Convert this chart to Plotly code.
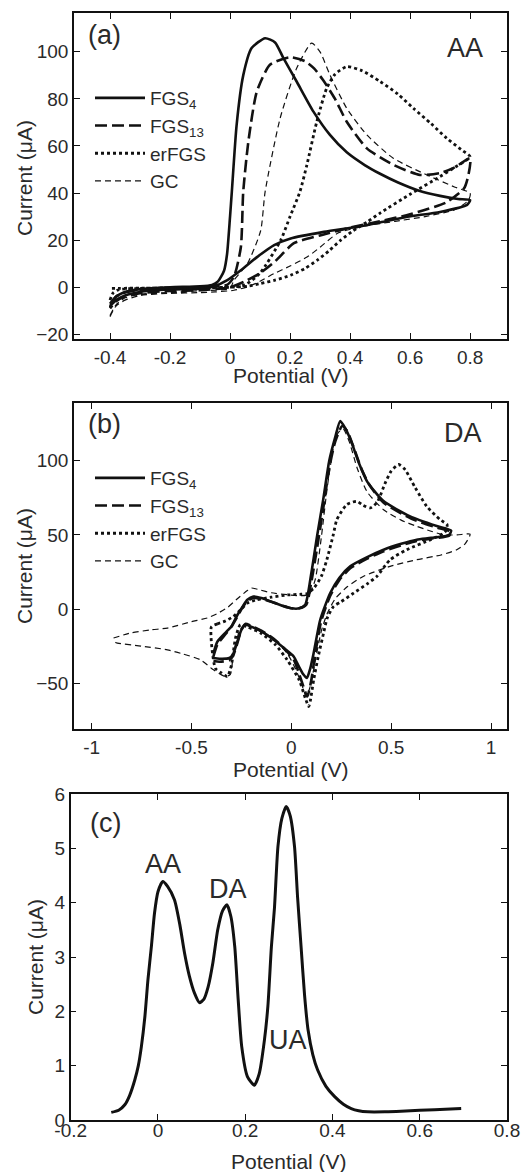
import plotly.graph_objects as go

# ---------------- Panel (a): AA cyclic voltammograms ----------------
a_fgs4_v = [-0.40, -0.38, -0.35, -0.30, -0.20, -0.10, -0.06, -0.04, -0.02, -0.01, 0.00, 0.006, 0.022, 0.044, 0.072, 0.117,
            0.15, 0.178, 0.222, 0.278, 0.333, 0.389, 0.45, 0.50, 0.56, 0.63, 0.70, 0.76, 0.80,
            0.79, 0.70, 0.591, 0.50, 0.424, 0.313, 0.202, 0.147, 0.091, 0.036, -0.009, -0.053, -0.10, -0.20, -0.30, -0.35, -0.38, -0.40]
a_fgs4_i = [-8, -4, -2, -0.8, 0, 0.4, 1, 2.5, 7, 14, 30, 40.6, 69, 90, 101.6, 105.8,
            104, 97.3, 87.4, 74.6, 64.7, 57.3, 51.8, 48.2, 44.5, 41, 38.8, 37.5, 37,
            35, 32, 29.9, 27.5, 25.7, 23.5, 20.7, 17.9, 12.9, 7.2, 3, 0.4, -0.6, -1, -2, -3.5, -5.5, -8]

a_fgs13_v = [-0.40, -0.38, -0.35, -0.30, -0.20, -0.10, -0.03, -0.01, 0.013, 0.036, 0.044, 0.061, 0.089, 0.133, 0.20, 0.25,
             0.28, 0.31, 0.35, 0.389, 0.456, 0.544, 0.633, 0.70, 0.75, 0.80,
             0.795, 0.78, 0.72, 0.60, 0.50, 0.40, 0.30, 0.213, 0.15, 0.10, 0.05, 0.00, -0.10, -0.20, -0.30, -0.35, -0.38, -0.40]
a_fgs13_i = [-7, -4, -2.2, -1.2, -0.5, 0, 0.6, 1, 4.4, 17, 40.6, 61.8, 83, 94.5, 97.7, 96,
             93, 88, 80, 70.3, 59, 52, 47.7, 48.5, 51, 54.8,
             48, 42, 36, 31, 28, 25.3, 22, 18.7, 11, 6, 2.5, 0, -1.3, -1.6, -2.5, -4, -6, -9]

a_erfgs_v = [-0.40, -0.39, -0.37, -0.30, -0.20, -0.10, 0.00, 0.05, 0.10, 0.169, 0.20, 0.233, 0.256, 0.289, 0.322, 0.35,
             0.389, 0.44, 0.50, 0.56, 0.611, 0.67, 0.722, 0.77, 0.80,
             0.75, 0.70, 0.60, 0.50, 0.458, 0.41, 0.369, 0.33, 0.291, 0.25, 0.202, 0.15, 0.102, 0.058, 0.00, -0.10, -0.20, -0.30, -0.40]
a_erfgs_i = [-5.5, -2.5, -1, -0.5, -0.3, -0.2, 0, 1, 6, 20, 30, 40.6, 51.9, 70.3, 84.5, 90.5,
             93.7, 92, 87.4, 82, 76, 69.5, 63.3, 58.5, 55.4,
             51, 47, 39.5, 31.5, 27.8, 24, 20, 15.5, 11.5, 8, 5.1, 3, 1.6, 0.4, 0, -0.2, -0.3, -0.4, -0.5]

a_gc_v = [-0.40, -0.38, -0.35, -0.30, -0.20, -0.10, 0.00, 0.013, 0.058, 0.102, 0.117, 0.167, 0.222, 0.272, 0.30, 0.333,
          0.389, 0.456, 0.544, 0.656, 0.75, 0.80,
          0.795, 0.75, 0.65, 0.55, 0.45, 0.36, 0.30, 0.258, 0.20, 0.147, 0.10, 0.058, 0.013, -0.05, -0.10, -0.20, -0.30, -0.35, -0.38, -0.40]
a_gc_i = [-12, -7.5, -4.5, -3, -2.2, -1.5, -0.5, 3, 10, 24, 40.6, 71.8, 93, 103.7, 100, 90.2,
          76, 64.7, 54.8, 47.7, 42.5, 40,
          37, 33, 30, 28, 26, 23, 17, 12.9, 9, 5.8, 2.5, 0.1, -1.3, -2, -2.3, -2.6, -3.5, -5.5, -8, -12.5]

# ---------------- Panel (b): DA cyclic voltammograms ----------------
b_fgs4_v = [-0.39, -0.37, -0.33, -0.30, -0.27, -0.24, -0.22, -0.19, -0.15, -0.10, -0.04, 0.00, 0.04, 0.07, 0.10, 0.13,
            0.16, 0.19, 0.22, 0.245, 0.27, 0.30, 0.34, 0.38, 0.46, 0.595, 0.728, 0.80,
            0.79, 0.70, 0.628, 0.55, 0.462, 0.38, 0.295, 0.24, 0.195, 0.145, 0.112, 0.095, 0.078, 0.06, 0.035, 0.012,
            -0.04, -0.088, -0.15, -0.205, -0.23, -0.25, -0.27, -0.29, -0.31, -0.36, -0.39]
b_fgs4_i = [-30, -22, -16, -11.7, -4, 2.5, 6.3, 8.5, 7.5, 5, 2, 0.5, 0.5, 3, 24, 50,
            74, 100, 116, 126.8, 122, 113, 98, 86, 73, 62.5, 56, 53,
            50, 48, 46.8, 44, 40, 35, 28.8, 21, 10.8, -7.2, -29.7, -40, -46.5, -44, -38, -32,
            -26, -20.7, -15, -11.7, -10.5, -14, -22, -30, -33, -33.5, -33]

b_fgs13_v = [-0.39, -0.37, -0.33, -0.30, -0.27, -0.24, -0.22, -0.19, -0.15, -0.10, -0.04, 0.00, 0.04, 0.075, 0.10, 0.13,
             0.16, 0.19, 0.22, 0.255, 0.28, 0.31, 0.35, 0.39, 0.46, 0.60, 0.73, 0.80,
             0.79, 0.70, 0.628, 0.55, 0.462, 0.38, 0.295, 0.24, 0.195, 0.15, 0.12, 0.10, 0.08, 0.06, 0.035, 0.012,
             -0.04, -0.088, -0.15, -0.205, -0.23, -0.25, -0.27, -0.29, -0.31, -0.36, -0.39]
b_fgs13_i = [-32, -24, -17, -12, -5, 2, 5.5, 7.5, 7, 5, 2, 0.5, 0.5, 3, 18, 42,
             68, 95, 113, 123.5, 120, 110, 95, 84, 72, 61, 55, 52,
             49.5, 47.5, 46, 43, 39, 34, 27.5, 19.5, 9, -8, -30, -48, -59, -52, -42, -34,
             -26, -20, -14.5, -11, -10, -14, -23, -31, -34.5, -35.5, -35]

b_erfgs_v = [-0.40, -0.37, -0.33, -0.29, -0.25, -0.22, -0.18, -0.10, -0.02, 0.05, 0.08, 0.112, 0.15, 0.178, 0.21, 0.228,
             0.278, 0.328, 0.36, 0.395, 0.43, 0.47, 0.50, 0.537, 0.57, 0.62, 0.678, 0.745, 0.78,
             0.77, 0.70, 0.578, 0.495, 0.428, 0.38, 0.312, 0.25, 0.212, 0.18, 0.162, 0.135, 0.112, 0.095, 0.087, 0.07, 0.04,
             -0.022, -0.08, -0.155, -0.22, -0.255, -0.28, -0.30, -0.32, -0.35, -0.38, -0.40]
b_erfgs_i = [-12, -10, -8, -5, 0, 4, 6, 8, 9.5, 10, 10.5, 14, 22, 33.3, 50, 60.3,
             70.5, 72.7, 70, 68.2, 72, 85, 93, 97.5, 94, 82, 69.3, 60.3, 57,
             52, 47, 40, 33.3, 22, 17, 10.8, 5, 1.8, -6, -16, -32, -47.8, -62, -65.8, -60, -48,
             -34, -24, -16, -12, -10.6, -20, -38, -45.5, -43, -40, -12]

b_gc_v = [-0.89, -0.80, -0.70, -0.62, -0.50, -0.42, -0.37, -0.32, -0.27, -0.22, -0.20, -0.16, -0.10, -0.02, 0.05, 0.09,
          0.12, 0.15, 0.18, 0.21, 0.235, 0.26, 0.29, 0.33, 0.38, 0.462, 0.55, 0.628, 0.70, 0.76, 0.83, 0.895,
          0.87, 0.828, 0.75, 0.628, 0.495, 0.36, 0.28, 0.22, 0.18, 0.15, 0.12, 0.095, 0.075, 0.05, 0.02, -0.02,
          -0.10, -0.20, -0.23, -0.26, -0.29, -0.305, -0.33, -0.39, -0.455, -0.55, -0.62, -0.75, -0.88, -0.89]
b_gc_i = [-19.5, -16, -14, -12.8, -8.5, -6, -3, 1, 7, 12.5, 14.2, 13, 11, 9.7, 9, 10,
          20, 48, 82, 108, 119, 121.5, 113, 95, 79, 67, 60, 55.8, 52.5, 50.2, 50, 50.5,
          44, 40, 36.5, 33.3, 28.8, 22, 15, 7, -3, -15, -35, -52, -59, -50, -40, -30,
          -19, -12, -10.5, -15, -30, -44, -45.5, -41, -34.2, -30, -27.5, -25, -22.5, -20.5]

# ---------------- Panel (c): simultaneous detection ----------------
c_v = [-0.107, -0.09, -0.076, -0.065, -0.053, -0.045, -0.038, -0.03, -0.023, -0.015, -0.008, 0.0, 0.011, 0.022, 0.038,
       0.05, 0.061, 0.072, 0.084, 0.095, 0.105, 0.115, 0.126, 0.137, 0.148, 0.158, 0.167, 0.176, 0.184, 0.192, 0.205,
       0.221, 0.232, 0.244, 0.252, 0.26, 0.267, 0.275, 0.284, 0.294, 0.303, 0.313, 0.32, 0.328, 0.336, 0.344, 0.355,
       0.366, 0.385, 0.405, 0.425, 0.443, 0.46, 0.481, 0.52, 0.557, 0.60, 0.634, 0.695]
c_i = [0.14, 0.18, 0.28, 0.45, 0.74, 1.0, 1.35, 1.9, 2.58, 3.2, 3.8, 4.2, 4.39, 4.3, 4.05,
       3.6, 3.07, 2.65, 2.33, 2.16, 2.22, 2.45, 2.9, 3.5, 3.85, 3.96, 3.75, 3.19, 2.2, 1.35, 0.8,
       0.64, 0.85, 1.47, 2.1, 3.19, 3.9, 5.03, 5.55, 5.77, 5.6, 5.03, 4.1, 3.19, 2.3, 1.66, 1.2,
       0.92, 0.62, 0.43, 0.29, 0.21, 0.17, 0.15, 0.15, 0.16, 0.18, 0.19, 0.21]

names = ["FGS<sub>4</sub>", "FGS<sub>13</sub>", "erFGS", "GC"]
styles = [dict(width=2.6, dash="solid"), dict(width=2.6, dash="12px,5px"),
          dict(width=2.8, dash="dot"), dict(width=1.2, dash="6px,4px")]

INK = "#111111"
TXT = "#2a2a2a"
FONT = "Liberation Sans, Arial, sans-serif"

fig = go.Figure()

a_sets = [(a_fgs4_v, a_fgs4_i), (a_fgs13_v, a_fgs13_i), (a_erfgs_v, a_erfgs_i), (a_gc_v, a_gc_i)]
b_sets = [(b_fgs4_v, b_fgs4_i), (b_fgs13_v, b_fgs13_i), (b_erfgs_v, b_erfgs_i), (b_gc_v, b_gc_i)]

for k, (v, i) in enumerate(a_sets):
    fig.add_trace(go.Scatter(x=v, y=i, mode="lines", name=names[k], legend="legend",
                             line=dict(color=INK, shape="spline", smoothing=0.6, **styles[k]),
                             xaxis="x", yaxis="y"))
for k, (v, i) in enumerate(b_sets):
    fig.add_trace(go.Scatter(x=v, y=i, mode="lines", name=names[k], legend="legend2",
                             line=dict(color=INK, shape="spline", smoothing=0.6, **styles[k]),
                             xaxis="x2", yaxis="y2"))
fig.add_trace(go.Scatter(x=c_v, y=c_i, mode="lines", showlegend=False,
                         line=dict(color=INK, width=3, shape="spline", smoothing=0.6),
                         xaxis="x3", yaxis="y3"))

W, H = 523, 1172


def xdom(l, r):
    return [l / W, r / W]


def ydom(t, b):
    return [1 - b / H, 1 - t / H]


axis_common = dict(showline=True, linecolor=INK, linewidth=1.5, mirror="ticks", ticks="inside",
                   ticklen=6, tickwidth=1.3, tickcolor=INK, showgrid=False, zeroline=False,
                   tickfont=dict(family=FONT, size=19, color=TXT), automargin=False)

fig.update_layout(
    width=W, height=H, margin=dict(l=0, r=0, t=0, b=0),
    paper_bgcolor="white", plot_bgcolor="white",
    font=dict(family=FONT, color=TXT),
    xaxis=dict(domain=xdom(74, 507), range=[-0.52, 0.923], tickvals=[-0.4, -0.2, 0, 0.2, 0.4, 0.6, 0.8],
               ticktext=["-0.4", "-0.2", "0", "0.2", "0.4", "0.6", "0.8"], anchor="y", **axis_common),
    yaxis=dict(domain=ydom(13, 339), range=[-22, 116.5], tickvals=[-20, 0, 20, 40, 60, 80, 100], anchor="x",
               **axis_common),
    xaxis2=dict(domain=xdom(74, 507), range=[-1.088, 1.08], tickvals=[-1, -0.5, 0, 0.5, 1],
                ticktext=["-1", "-0.5", "0", "0.5", "1"], anchor="y2", **axis_common),
    yaxis2=dict(domain=ydom(403, 729), range=[-80.9, 139], tickvals=[-50, 0, 50, 100], anchor="x2",
                **axis_common),
    xaxis3=dict(domain=xdom(70.7, 507), range=[-0.2, 0.8], tickvals=[-0.2, 0, 0.2, 0.4, 0.6, 0.8],
                ticktext=["-0.2", "0", "0.2", "0.4", "0.6", "0.8"], anchor="y3", ticklabelstandoff=-8,
                **axis_common),
    yaxis3=dict(domain=ydom(794, 1120), range=[0, 6], tickvals=[0, 1, 2, 3, 4, 5, 6], anchor="x3",
                **axis_common),
    legend=dict(x=90 / W, y=1 - 79 / H, xanchor="left", yanchor="top", bgcolor="rgba(0,0,0,0)",
                font=dict(family=FONT, size=19, color=TXT), itemwidth=50, tracegroupgap=0),
    legend2=dict(x=90 / W, y=1 - 459 / H, xanchor="left", yanchor="top", bgcolor="rgba(0,0,0,0)",
                 font=dict(family=FONT, size=19, color=TXT), itemwidth=50, tracegroupgap=0),
)

# axis titles
title_font = dict(family=FONT, size=21, color=TXT)
for (xc, yc) in [(290.5, 375), (290.5, 769), (289, 1161)]:
    fig.add_annotation(x=xc / W, y=1 - yc / H, xref="paper", yref="paper", text="Potential (V)",
                       showarrow=False, font=title_font, xanchor="center", yanchor="middle")
for (xc, yc) in [(24, 178), (24, 566), (35, 957)]:
    fig.add_annotation(x=xc / W, y=1 - yc / H, xref="paper", yref="paper", text="Current (\u03bcA)",
                       showarrow=False, font=title_font, textangle=-90, xanchor="center", yanchor="middle")

ann_font_big = dict(family=FONT, size=27, color=TXT)
fig.add_annotation(x=-0.417, y=107.2, xref="x", yref="y", text="(a)", showarrow=False, font=ann_font_big)
fig.add_annotation(x=0.783, y=101.6, xref="x", yref="y", text="AA", showarrow=False, font=ann_font_big)
fig.add_annotation(x=-0.933, y=124.5, xref="x2", yref="y2", text="(b)", showarrow=False, font=ann_font_big)
fig.add_annotation(x=0.861, y=118.9, xref="x2", yref="y2", text="DA", showarrow=False, font=ann_font_big)
fig.add_annotation(x=-0.121, y=5.47, xref="x3", yref="y3", text="(c)", showarrow=False, font=ann_font_big)
fig.add_annotation(x=0.012, y=4.72, xref="x3", yref="y3", text="AA", showarrow=False, font=ann_font_big)
fig.add_annotation(x=0.16, y=4.26, xref="x3", yref="y3", text="DA", showarrow=False, font=ann_font_big)
fig.add_annotation(x=0.299, y=1.47, xref="x3", yref="y3", text="UA", showarrow=False, font=ann_font_big)

fig.write_html("out.html", config={"displayModeBar": False},
               post_script="document.body.style.margin='0';document.body.style.overflow='hidden';")
